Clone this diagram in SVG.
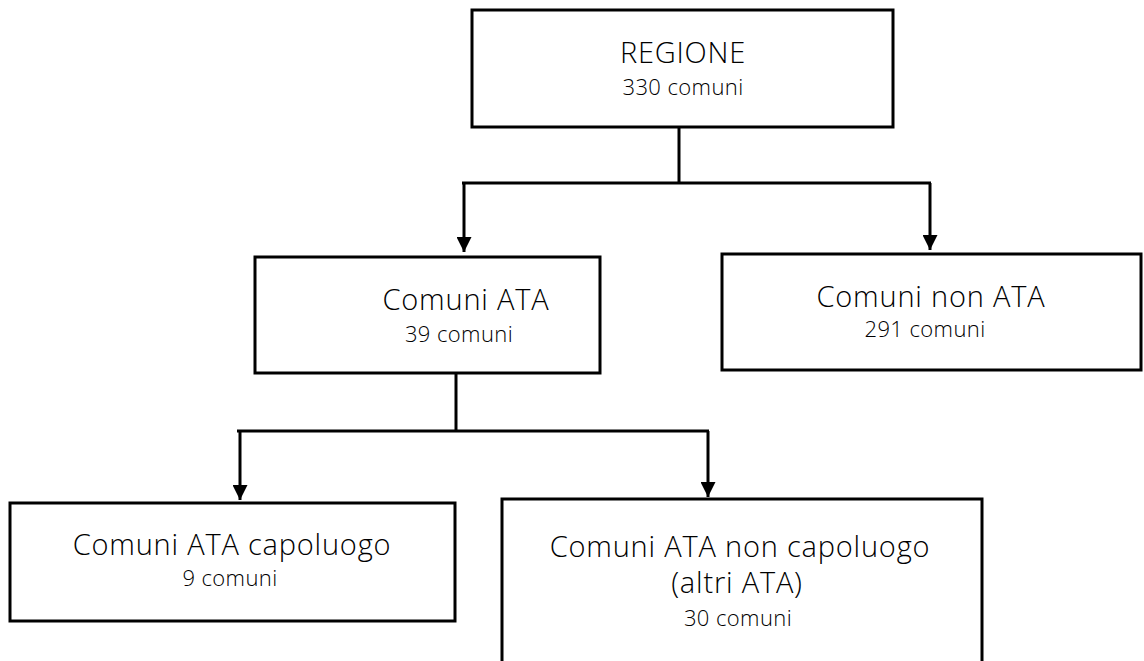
<svg xmlns="http://www.w3.org/2000/svg" width="1144" height="661" viewBox="0 0 1144 661">
<defs>
<style>
.box{fill:#fff;stroke:#000;stroke-width:3}
.ln{fill:none;stroke:#000;stroke-width:3}
.t1{font-family:"Open Sans",Lato,sans-serif;font-weight:300;font-size:29px;letter-spacing:0.8px;fill:#000;text-anchor:middle}
.t2{font-family:"Open Sans",Lato,sans-serif;font-weight:300;font-size:22px;letter-spacing:0.4px;fill:#000;text-anchor:middle}
</style>
<marker id="ah" viewBox="0 0 10 10" refX="10" refY="5" markerWidth="5" markerHeight="5" markerUnits="strokeWidth" orient="auto">
<path d="M0,0 L10,5 L0,10 Z" fill="#000"/>
</marker>
</defs>
<rect width="1144" height="661" fill="#fff"/>
<g id="connectors">
<path class="ln" d="M679,127 V183"/>
<path class="ln" d="M462,183 H931"/>
<path class="ln" d="M464,183 V252" marker-end="url(#ah)"/>
<path class="ln" d="M930,183 V250" marker-end="url(#ah)"/>
<path class="ln" d="M456,373 V431"/>
<path class="ln" d="M237,431 H709"/>
<path class="ln" d="M240,431 V500" marker-end="url(#ah)"/>
<path class="ln" d="M708,431 V497" marker-end="url(#ah)"/>
</g>
<g id="regione">
<rect class="box" x="472" y="10" width="421" height="117"/>
<text class="t1" x="683" y="63">REGIONE</text>
<text class="t2" x="683" y="95">330 comuni</text>
</g>
<g id="comuni-ata">
<rect class="box" x="255" y="257" width="345" height="116"/>
<text class="t1" x="466" y="310">Comuni ATA</text>
<text class="t2" x="459" y="342">39 comuni</text>
</g>
<g id="comuni-non-ata">
<rect class="box" x="722" y="254" width="419" height="116"/>
<text class="t1" x="931" y="307">Comuni non ATA</text>
<text class="t2" x="925" y="337">291 comuni</text>
</g>
<g id="ata-capoluogo">
<rect class="box" x="10" y="503" width="445" height="118"/>
<text class="t1" x="232" y="555">Comuni ATA capoluogo</text>
<text class="t2" x="230" y="586">9 comuni</text>
</g>
<g id="ata-non-capoluogo">
<rect class="box" x="502" y="499" width="480" height="180"/>
<text class="t1" x="740" y="557">Comuni ATA non capoluogo</text>
<text class="t1" x="737" y="593">(altri ATA)</text>
<text class="t2" x="738" y="626">30 comuni</text>
</g>
</svg>
